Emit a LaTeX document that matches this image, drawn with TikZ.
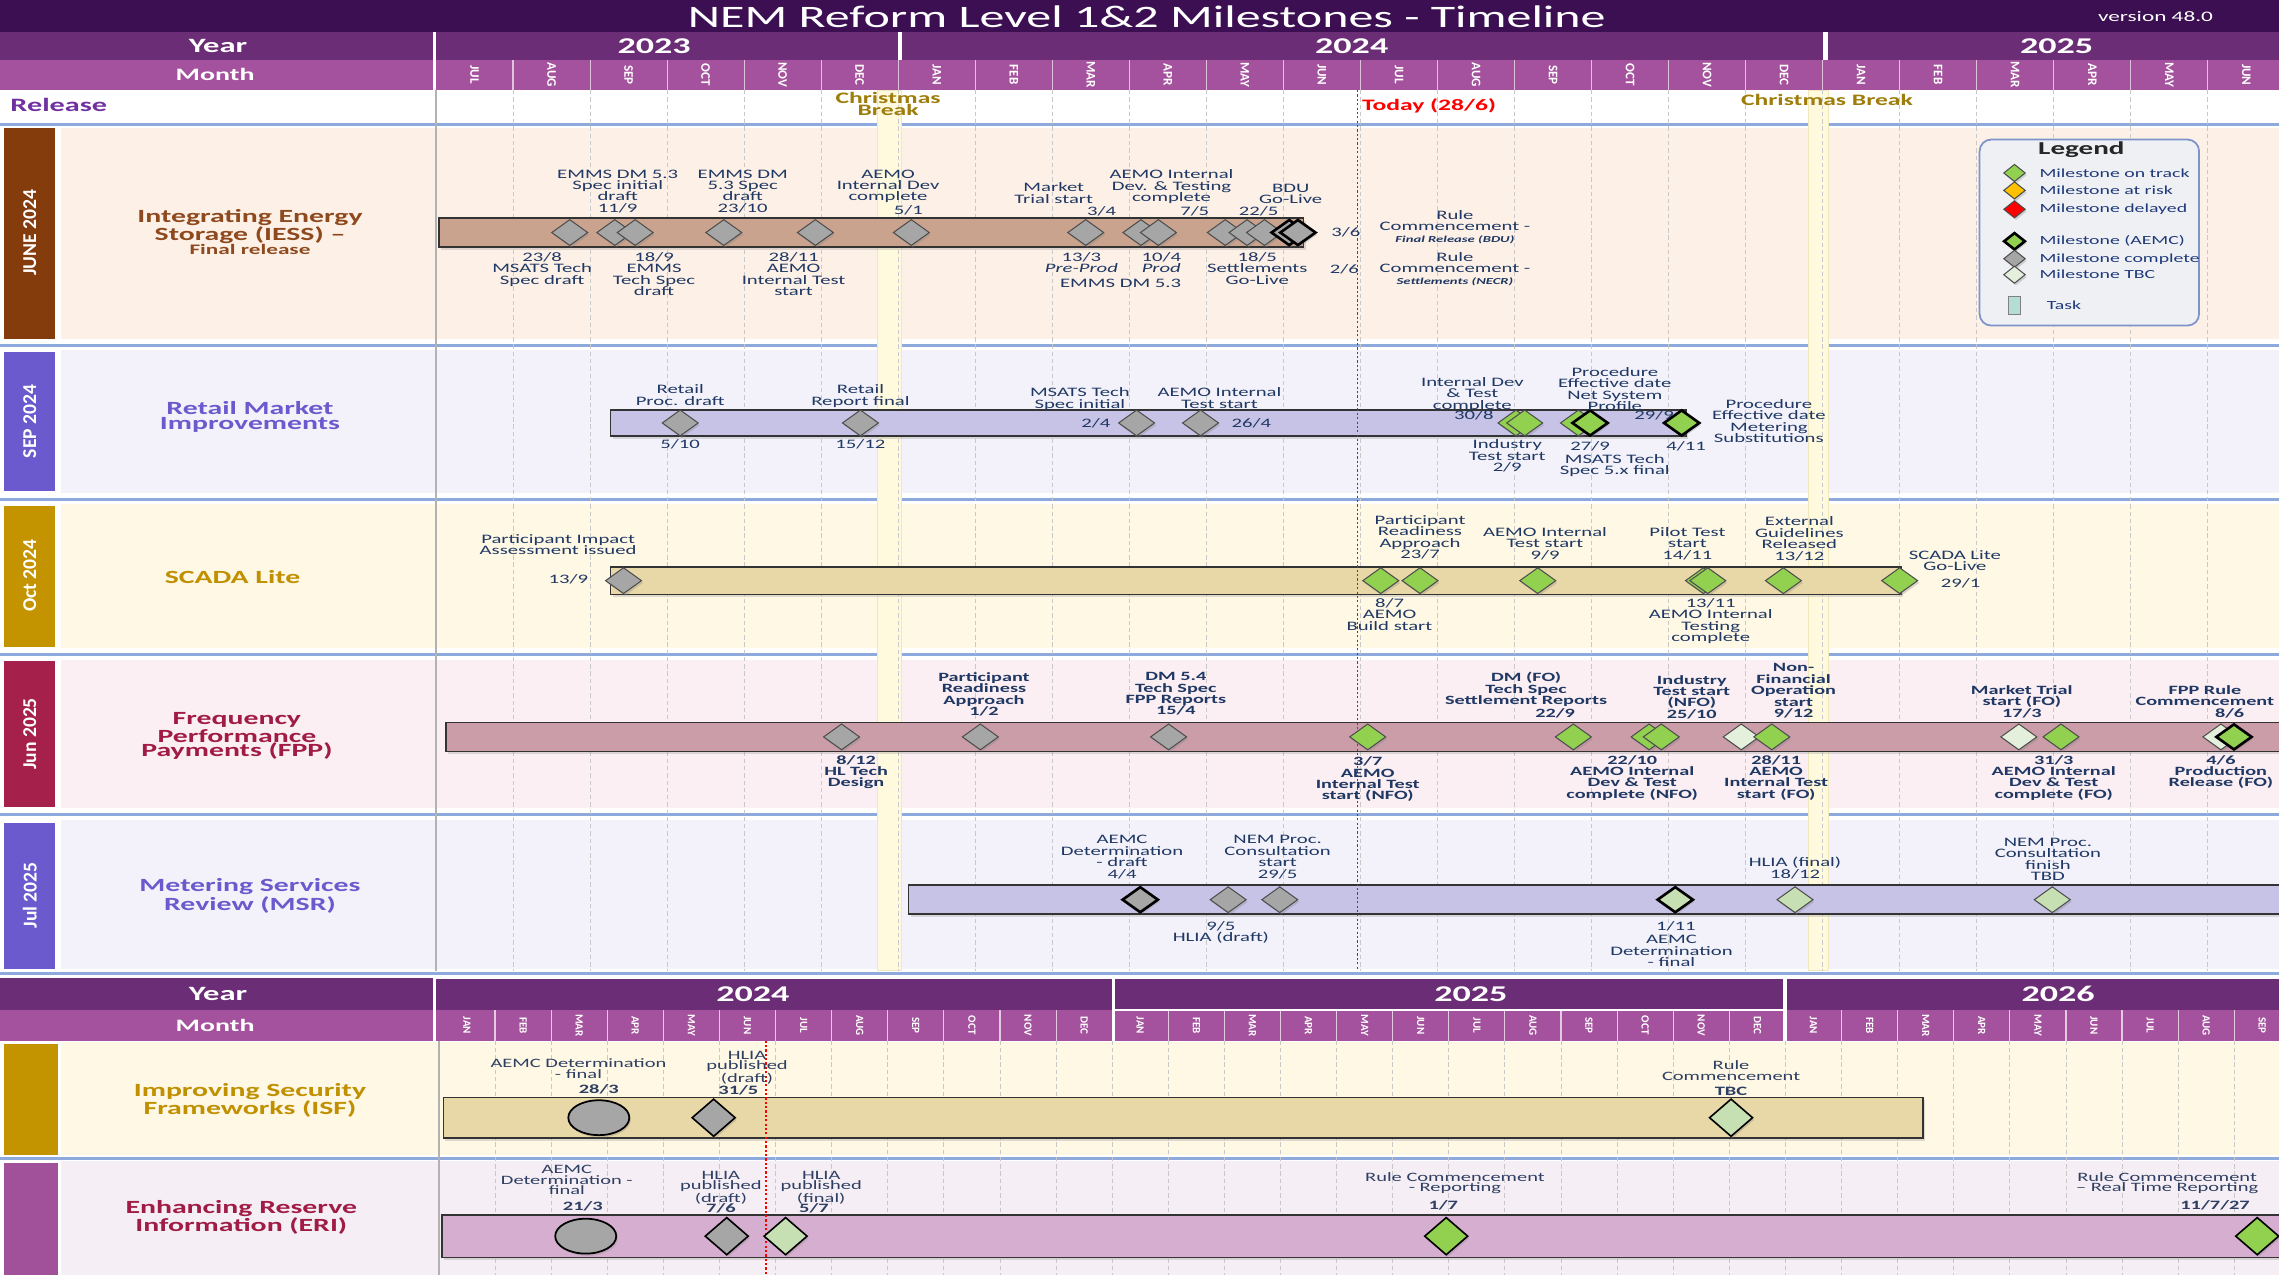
\documentclass[tikz,border=0pt]{standalone}
\usepackage{fontspec}
\setmainfont{Carlito}[FakeStretch=1.6]
\newfontfamily\rotfont{Carlito}
\usetikzlibrary{shapes.geometric,shadows}

\definecolor{titlebg}{HTML}{3B0F52}
\definecolor{yearbg}{HTML}{6B2D76}
\definecolor{monthbg}{HTML}{A4529D}
\definecolor{relc}{HTML}{7030A0}
\definecolor{sepblue}{HTML}{8EA9DB}
\definecolor{gridc}{HTML}{C8C8C8}
\definecolor{xmas}{HTML}{FFF9DE}
\definecolor{xmasedge}{HTML}{F0E8BC}
\definecolor{xmastext}{HTML}{9E7D0A}
\definecolor{lbl}{HTML}{1F3864}
\definecolor{lbln}{HTML}{2E3F63}
\definecolor{iesstab}{HTML}{843C0C}
\definecolor{iessbg}{HTML}{FDF0E6}
\definecolor{iesstext}{HTML}{8E4A1E}
\definecolor{iessbar}{HTML}{C9A38E}
\definecolor{bluetab}{HTML}{6A5ACD}
\definecolor{bluebg}{HTML}{F3F2FA}
\definecolor{bluebar}{HTML}{C6C3E6}
\definecolor{goldtab}{HTML}{C39300}
\definecolor{goldbg}{HTML}{FEF8E4}
\definecolor{goldtext}{HTML}{C09000}
\definecolor{goldbar}{HTML}{E8D7A7}
\definecolor{fpptab}{HTML}{A5204A}
\definecolor{fppbg}{HTML}{FCEFF3}
\definecolor{fpptext}{HTML}{A01C45}
\definecolor{fppbar}{HTML}{CA9DA8}
\definecolor{eritab}{HTML}{A0519A}
\definecolor{eribg}{HTML}{F6EEF5}
\definecolor{eribar}{HTML}{D6AED0}
\definecolor{mgreen}{HTML}{92D050}
\definecolor{mgrey}{HTML}{A6A6A6}
\definecolor{mtbc}{HTML}{E4EFDC}
\definecolor{mlgreen}{HTML}{C6E0B4}
\definecolor{morange}{HTML}{FFC000}
\definecolor{mred}{HTML}{FF0000}
\definecolor{legbg}{HTML}{EEF0F4}
\definecolor{legline}{HTML}{7F93CB}
\definecolor{legtext}{HTML}{1F3A7A}
\definecolor{taskc}{HTML}{B4DED4}
\definecolor{todayc}{HTML}{FF0000}

\tikzset{
  lbl/.style={font=\fontsize{8.9}{7.9}\selectfont, text=lbl, align=center, inner sep=0pt, anchor=north},
  lblb/.style={lbl, font=\fontsize{8.7}{7.8}\selectfont\bfseries},
  lbln/.style={lbl, text=lbln, font=\fontsize{8.8}{7.3}\selectfont},
  lblnb/.style={lbl, text=lbln, font=\fontsize{8.8}{7.3}\selectfont\bfseries},
  hdr/.style={font=\fontsize{14}{14}\selectfont\bfseries, text=white, inner sep=0pt},
  hdrm/.style={font=\fontsize{12}{12}\selectfont\bfseries, text=white, inner sep=0pt},
  yrlab/.style={font=\fontsize{15.5}{15.5}\selectfont\bfseries, text=white, inner sep=0pt},
  mlab/.style={font=\rotfont\fontsize{9}{9}\selectfont\bfseries, text=white, rotate=-90, inner sep=0pt},
  mlabs/.style={font=\rotfont\fontsize{7.6}{7.6}\selectfont\bfseries, text=white, rotate=-90, inner sep=0pt},
  tablab/.style={font=\rotfont\fontsize{13.5}{13.5}\selectfont\bfseries, text=white, rotate=90, inner sep=0pt},
  rowlab/.style={font=\fontsize{12.8}{10}\selectfont\bfseries, align=center, inner sep=0pt},
  gline/.style={gridc, dash pattern=on 3pt off 2pt, line width=0.6pt},
  rowsep/.style={sepblue, line width=2pt},
  tbar/.style={draw=black!80, line width=1pt, drop shadow={shadow xshift=1.5pt, shadow yshift=-2pt, opacity=0.25}},
  ms/.style={diamond, draw=black!70, line width=0.7pt, minimum width=25pt, minimum height=18pt, inner sep=0pt, drop shadow={shadow xshift=1pt, shadow yshift=-1.5pt, opacity=0.3}},
  tall/.style={minimum width=30pt, minimum height=26pt, draw=black, line width=1.1pt},
  done/.style={fill=mgrey},
  okm/.style={fill=mgreen},
  tbc/.style={fill=mtbc},
  lgm/.style={fill=mlgreen},
  aemc/.style={draw=black, line width=1.8pt},
  circm/.style={ellipse, draw=black, line width=1.2pt, fill=mgrey, minimum width=42pt, minimum height=24pt, inner sep=0pt, drop shadow={shadow xshift=1pt, shadow yshift=-1.5pt, opacity=0.3}},
  legt/.style={font=\fontsize{8.5}{8.5}\selectfont, text=legtext, anchor=west, inner sep=0pt},
  legd/.style={minimum width=15pt, minimum height=12pt},
  today/.style={todayc, line width=1pt, dash pattern=on 1.5pt off 1.5pt},
}

\newcommand\milab[5][lbl]{\node[#1] (#2) at (#3,{#4-3.5}) {#5};}
\newcommand\mdia[4]{\node[ms,#1] (#2) at (#3,#4) {};}

\begin{document}
\begin{tikzpicture}[x=1pt,y=-1pt]
\useasboundingbox (0,0) rectangle (1568,877.2);
\fill[white] (0,0) rectangle (1568,877.2);

% ---------- upper header ----------
\fill[titlebg] (0,0) rectangle (1568,22);
\node[font=\fontsize{21.5}{22}\selectfont, text=white, inner sep=0pt] (title) at (789,11.5) {NEM Reform Level 1\&2 Milestones - Timeline};
\node[font=\fontsize{10}{10}\selectfont, text=white, inner sep=0pt] (ver) at (1483,11.5) {version 48.0};
\fill[yearbg] (0,22) rectangle (1568,41);
\fill[monthbg] (0,41) rectangle (1568,62);
\foreach \k in {1,...,23} \draw[white!65!monthbg, line width=0.8pt] ({300+53*\k},41) -- ({300+53*\k},62);
\draw[white, line width=2pt] (299,22) -- (299,62);
\draw[white, line width=3pt] (619,22) -- (619,41);
\draw[white, line width=3pt] (1256,22) -- (1256,41);
\node[hdr] (yearU) at (150,31.5) {Year};
\node[hdrm] (monthU) at (148,51.5) {Month};
\node[yrlab] (y2023) at (450,31.5) {2023};
\node[yrlab] (y2024) at (930,31.5) {2024};
\node[yrlab] (y2025) at (1415,31.5) {2025};
\foreach \mn [count=\i from 0] in {JUL,AUG,SEP,OCT,NOV,DEC,JAN,FEB,MAR,APR,MAY,JUN,JUL,AUG,SEP,OCT,NOV,DEC,JAN,FEB,MAR,APR,MAY,JUN}
  \node[mlab] (um\i) at ({326.5+53*\i},51.5) {\mn};
\node[font=\fontsize{13}{13}\selectfont\bfseries, text=relc, anchor=west, inner sep=0pt] (rel) at (7,72.5) {Release};

% ---------- upper rows ----------
\fill[iesstab] (3,88) rectangle (38,233);
\fill[iessbg] (42,88) rectangle (1568,233);
\fill[bluetab] (3,242) rectangle (38,338);
\fill[bluebg] (42,241) rectangle (1568,339);
\fill[goldtab] (3,348) rectangle (38,445);
\fill[goldbg] (42,347) rectangle (1568,446);
\fill[fpptab] (3,455) rectangle (38,555);
\fill[fppbg] (42,454) rectangle (1568,556);
\fill[bluetab] (3,566) rectangle (38,667);
\fill[bluebg] (42,564) rectangle (1568,667);

\foreach \yy in {85.5,237.5,343.5,450.5,560.5,669.5} \draw[rowsep] (0,\yy) -- (1568,\yy);

% christmas strips
\filldraw[fill=xmas, draw=xmasedge, line width=0.8pt] (604,62) rectangle (620,668);
\filldraw[fill=xmas, draw=xmasedge, line width=0.8pt] (1244,62) rectangle (1258,668);

% grid
\foreach \k in {1,...,23} \draw[gline] ({300+53*\k},62) -- ({300+53*\k},668);
\draw[black!30, line width=0.8pt] (300,62) -- (300,668);

\node[font=\fontsize{11}{8}\selectfont\bfseries, text=xmastext, align=center, inner sep=0pt] (xm1) at (611,71.5) {Christmas\\Break};
\node[font=\fontsize{11}{8}\selectfont\bfseries, text=xmastext, inner sep=0pt] (xm2) at (1257,68.5) {Christmas Break};
\node[font=\fontsize{11}{11}\selectfont\bfseries, text=todayc, anchor=west, inner sep=0pt] (todayt) at (937,72.5) {Today (28/6)};

% tab labels
\node[tablab] (tab1) at (20.5,160) {JUNE 2024};
\node[tablab] (tab2) at (20.5,290) {SEP 2024};
\node[tablab] (tab3) at (20.5,396) {Oct 2024};
\node[tablab] (tab4) at (20.5,505) {Jun 2025};
\node[tablab] (tab5) at (20.5,616) {Jul 2025};

% row labels
\node[rowlab, text=iesstext] (rl1) at (172,156) {Integrating Energy\\Storage (IESS) –};
\node[font=\fontsize{10}{10}\selectfont\bfseries, text=iesstext, inner sep=0pt] (rl1b) at (172,171.5) {Final release};
\node[rowlab, text=bluetab] (rl2) at (172,287) {Retail Market\\Improvements};
\node[rowlab, text=goldtext] (rl3) at (160,397) {SCADA Lite};
\node[rowlab, text=fpptext] (rl4) at (163,506.5) {Frequency\\Performance\\Payments (FPP)};
\node[rowlab, text=bluetab] (rl5) at (172,616.5) {Metering Services\\Review (MSR)};

% bars
\filldraw[tbar, fill=iessbar] (302,150) rectangle (897,170);
\filldraw[tbar, fill=bluebar] (420,282) rectangle (1160,300);
\filldraw[tbar, fill=goldbar] (420,390) rectangle (1308,409);
\filldraw[tbar, fill=fppbar] (307,497) rectangle (1575,517);
\filldraw[tbar, fill=bluebar] (625,609) rectangle (1575,629);

% today line upper
\draw[today] (934,62) -- (934,668);

% IESS milestones
\mdia{done}{a1}{392}{160}
\mdia{done}{a2}{423}{160}
\mdia{done}{a3}{437}{160}
\mdia{done}{a4}{498}{160}
\mdia{done}{a5}{561}{160}
\mdia{done}{a6}{627}{160}
\mdia{done}{a7}{747}{160}
\mdia{done}{a8}{785}{160}
\mdia{done}{a9}{797}{160}
\mdia{done}{a10}{843}{160}
\mdia{done}{a11}{858}{160}
\mdia{done}{a12}{870}{160}
\mdia{done,aemc}{a13}{887}{160}
\mdia{done,aemc}{a14}{893}{160}

% Retail milestones
\mdia{done}{b1}{468}{291}
\mdia{done}{b2}{592}{291}
\mdia{done}{b3}{782}{291}
\mdia{done}{b4}{826}{291}
\mdia{okm}{b5}{1043}{291}
\mdia{okm}{b6}{1049}{291}
\mdia{okm}{b7}{1086}{291}
\mdia{okm,aemc}{b8}{1094}{291}
\mdia{okm,aemc}{b9}{1157}{291}

% SCADA milestones
\mdia{done}{c1}{429}{399.5}
\mdia{okm}{c2}{950}{399.5}
\mdia{okm}{c3}{977}{399.5}
\mdia{okm}{c4}{1058}{399.5}
\mdia{okm}{c5}{1172}{399.5}
\mdia{okm}{c6}{1175}{399.5}
\mdia{okm}{c7}{1227}{399.5}
\mdia{okm}{c8}{1307}{399.5}

% FPP milestones
\mdia{done}{d1}{579}{507}
\mdia{done}{d2}{674.5}{507}
\mdia{done}{d3}{804}{507}
\mdia{okm}{d4}{941}{507}
\mdia{okm}{d5}{1082.5}{507}
\mdia{okm}{d6}{1134.6}{507}
\mdia{okm}{d7}{1143}{507}
\mdia{tbc}{d8}{1198}{507}
\mdia{okm}{d9}{1219}{507}
\mdia{tbc}{d10}{1389}{507}
\mdia{okm}{d11}{1418}{507}
\mdia{tbc}{d12}{1528}{507}
\mdia{okm,aemc}{d13}{1537}{507}

% MSR milestones
\mdia{done,aemc}{e1}{784.5}{619}
\mdia{done}{e2}{845}{619}
\mdia{done}{e3}{880.5}{619}
\mdia{lgm,aemc}{e4}{1152.6}{619}
\mdia{lgm}{e5}{1235}{619}
\mdia{lgm}{e6}{1412}{619}

% IESS labels
\milab{l1}{425}{120}{EMMS DM 5.3\\Spec initial\\draft\\11/9}
\milab{l2}{511}{120}{EMMS DM\\5.3 Spec\\draft\\23/10}
\milab{l3}{611}{120}{AEMO\\Internal Dev\\complete}
\milab{l3d}{625}{144.5}{5/1}
\milab{l4}{373}{177}{23/8\\MSATS Tech\\Spec draft}
\milab{l5}{450}{177}{18/9\\EMMS\\Tech Spec\\draft}
\milab{l6}{546}{177}{28/11\\AEMO\\Internal Test\\start}
\milab{l7}{725}{129}{Market\\Trial start}
\milab{l7d}{758}{145.5}{3/4}
\milab{l8}{806}{120}{AEMO Internal\\Dev. \& Testing\\complete}
\milab{l8d}{822}{145.5}{7/5}
\milab{l9}{888}{130}{BDU\\Go-Live}
\milab{l9d}{866}{145.5}{22/5}
\milab{l10}{926}{160}{3/6}
\milab{l11}{1001}{148}{Rule\\Commencement -\\{\fontsize{6.3}{7}\selectfont\bfseries\itshape Final Release (BDU)}}
\milab{l12}{744}{177}{13/3\\\textit{Pre-Prod}}
\milab{l13}{799}{177}{10/4\\\textit{Prod}}
\milab{l14}{771}{195}{EMMS DM 5.3}
\milab{l15}{865}{177}{18/5\\Settlements\\Go-Live}
\milab{l16}{925}{185}{2/6}
\milab{l17}{1001}{177}{Rule\\Commencement -\\{\fontsize{6.3}{7}\selectfont\bfseries\itshape Settlements (NECR)}}

% Retail labels
\milab{r1}{468}{268}{Retail\\Proc. draft}
\milab{r1d}{468}{306}{5/10}
\milab{r2}{592}{268}{Retail\\Report final}
\milab{r2d}{592}{306}{15/12}
\milab{r3}{743}{270}{MSATS Tech\\Spec initial}
\milab{r3d}{754}{291}{2/4}
\milab{r4}{839}{270}{AEMO Internal\\Test start}
\milab{r4d}{861}{291}{26/4}
\milab{r5}{1013}{263}{Internal Dev\\\& Test\\complete}
\milab{r5d}{1014}{286}{30/8}
\milab{r6}{1111}{256}{Procedure\\Effective date\\Net System\\Profile}
\milab{r6d}{1138}{286}{29/9}
\milab{r7}{1217}{278}{Procedure\\Effective date\\Metering\\Substitutions}
\milab{r8}{1037}{306}{Industry\\Test start\\2/9}
\milab{r9d}{1094}{307}{27/9}
\milab{r9}{1111}{316}{MSATS Tech\\Spec 5.x final}
\milab{r10}{1160}{307}{4/11}

% SCADA labels
\milab{s1}{384}{371}{Participant Impact\\Assessment issued}
\milab{s1d}{391}{398.5}{13/9}
\milab{s2}{977}{358}{Participant\\Readiness\\Approach\\23/7}
\milab{s3}{1063}{366}{AEMO Internal\\Test start\\9/9}
\milab{s4}{1161}{366}{Pilot Test\\start\\14/11}
\milab{s5}{1238}{359}{External\\Guidelines\\Released\\13/12}
\milab{s6}{1345}{382}{SCADA Lite\\Go-Live}
\milab{s6d}{1349}{401}{29/1}
\milab{s7}{956}{415}{8/7\\AEMO\\Build start}
\milab{s8}{1177}{415}{13/11\\AEMO Internal\\Testing\\complete}

% FPP labels
\milab[lblb]{f1}{589}{523}{8/12\\HL Tech\\Design}
\milab[lblb]{f2}{677}{466}{Participant\\Readiness\\Approach\\1/2}
\milab[lblb]{f3}{809}{466}{DM 5.4\\Tech Spec\\FPP Reports\\15/4}
\milab[lblb]{f4}{941}{524}{3/7\\AEMO\\Internal Test\\start (NFO)}
\milab[lblb]{f5}{1050}{466}{DM (FO)\\Tech Spec\\Settlement Reports}
\milab[lblb]{f5d}{1070}{491}{22/9}
\milab[lblb]{f6}{1123}{523}{22/10\\AEMO Internal\\Dev \& Test\\complete (NFO)}
\milab[lblb]{f7}{1164}{468}{Industry\\Test start\\(NFO)\\25/10}
\milab[lblb]{f8}{1234}{460}{Non-\\Financial\\Operation\\start\\9/12}
\milab[lblb]{f9}{1222}{523}{28/11\\AEMO\\Internal Test\\start (FO)}
\milab[lblb]{f10}{1391}{475}{Market Trial\\start (FO)\\17/3}
\milab[lblb]{f11}{1413}{523}{31/3\\AEMO Internal\\Dev \& Test\\complete (FO)}
\milab[lblb]{f12}{1517}{475}{FPP Rule\\Commencement}
\milab[lblb]{f12d}{1534}{491}{8/6}
\milab[lblb]{f13}{1528}{523}{4/6\\Production\\Release (FO)}

% MSR labels
\milab{m1}{772}{578}{AEMC\\Determination\\- draft\\4/4}
\milab{m2}{879}{578}{NEM Proc.\\Consultation\\start\\29/5}
\milab{m3}{840}{637}{9/5\\HLIA (draft)}
\milab{m4}{1235}{593}{HLIA (final)\\18/12}
\milab{m5}{1409}{580}{NEM Proc.\\Consultation\\finish\\TBD}
\milab{m6d}{1153}{637}{1/11}
\milab{m6}{1150}{647}{AEMC\\Determination\\- final}

% legend
\draw[legline, fill=legbg, rounded corners=8pt, line width=1.2pt] (1362,96) rectangle (1513,224);
\node[font=\fontsize{12.5}{12.5}\selectfont\bfseries, text=black!85, inner sep=0pt] (legT) at (1432,103) {Legend};
\node[ms, legd, okm] (lg1) at (1386,119) {};
\node[legt] (lgt1) at (1403,119) {Milestone on track};
\node[ms, legd, fill=morange] (lg2) at (1386,131) {};
\node[legt] (lgt2) at (1403,131) {Milestone at risk};
\node[ms, legd, fill=mred] (lg3) at (1386,144) {};
\node[legt] (lgt3) at (1403,144) {Milestone delayed};
\node[ms, legd, okm, aemc] (lg4) at (1386,166) {};
\node[legt] (lgt4) at (1403,166) {Milestone (AEMC)};
\node[ms, legd, done] (lg5) at (1386,178) {};
\node[legt] (lgt5) at (1403,178) {Milestone complete};
\node[ms, legd, tbc] (lg6) at (1386,189) {};
\node[legt] (lgt6) at (1403,189) {Milestone TBC};
\node[draw=black!50, fill=taskc, minimum width=8pt, minimum height=12pt, inner sep=0pt] (lg7) at (1386,210) {};
\node[legt] (lgt7) at (1408,210) {Task};

% ---------- lower header ----------
\fill[yearbg] (0,673) rectangle (1568,695);
\fill[monthbg] (0,695) rectangle (1568,716);
\foreach \k in {1,...,32} \draw[white!70!monthbg, line width=0.8pt] ({302+38.6*\k},695) -- ({302+38.6*\k},716);
\draw[white, line width=1pt] (298,673) -- (1568,673);
\draw[white, line width=2pt] (299,673) -- (299,716);
\draw[white, line width=2.5pt] (766,673) -- (766,716);
\draw[white, line width=2.5pt] (1228,673) -- (1228,716);
\draw[white, line width=1.5pt] (766,695) -- (1228,695);
\node[hdr] (yearL) at (150,684) {Year};
\node[hdrm] (monthL) at (148,705.5) {Month};
\node[yrlab] (z2024) at (518,684) {2024};
\node[yrlab] (z2025) at (1012,684) {2025};
\node[yrlab] (z2026) at (1416,684) {2026};
\foreach \mn [count=\i from 0] in {JAN,FEB,MAR,APR,MAY,JUN,JUL,AUG,SEP,OCT,NOV,DEC,JAN,FEB,MAR,APR,MAY,JUN,JUL,AUG,SEP,OCT,NOV,DEC,JAN,FEB,MAR,APR,MAY,JUN,JUL,AUG,SEP}
  \node[mlabs] (lm\i) at ({302+38.6*(\i+0.5)},705.5) {\mn};

% ---------- lower rows ----------
\fill[goldtab] (3,718) rectangle (40,795);
\fill[goldbg] (42,717) rectangle (1568,795);
\fill[eritab] (3,800) rectangle (40,877.2);
\fill[eribg] (42,799) rectangle (1568,877.2);
\draw[rowsep] (0,797) -- (1568,797);
\foreach \k in {1,...,32} \draw[gline] ({302+38.6*\k},716) -- ({302+38.6*\k},877.2);
\draw[black!30, line width=0.8pt] (302,716) -- (302,877.2);

\node[rowlab, text=goldtext] (rl6) at (172,757) {Improving Security\\Frameworks (ISF)};
\node[rowlab, text=fpptext] (rl7) at (166,837.5) {Enhancing Reserve\\Information (ERI)};

\filldraw[tbar, fill=goldbar] (305,755) rectangle (1323,783);
\filldraw[tbar, fill=eribar] (304,836) rectangle (1575,865);
\draw[today] (527,716) -- (527,877.2);

\node[circm] (g1) at (412,769) {};
\mdia{done,tall}{g2}{491}{769}
\mdia{lgm,tall}{g3}{1191}{769}
\node[circm] (h1) at (403,850.5) {};
\mdia{done,tall}{h2}{500}{850.5}
\mdia{lgm,tall}{h3}{540.5}{850.5}
\mdia{okm,tall}{h4}{995}{850.5}
\mdia{okm,tall}{h5}{1553}{850.5}

\milab[lbln]{i1}{398}{732}{AEMC Determination\\- final}
\milab[lblnb]{i1d}{412}{749.5}{28/3}
\milab[lbln]{i2}{514}{726.5}{HLIA\\published\\(draft)}
\milab[lblnb]{i2d}{508}{750}{31/5}
\milab[lbln]{i3}{1191}{733}{Rule\\Commencement}
\milab[lblnb]{i3d}{1191}{751}{TBC}

\milab[lbln]{k1}{390}{805}{AEMC\\Determination -\\final}
\milab[lblnb]{k1d}{401}{830}{21/3}
\milab[lbln]{k2}{496}{809}{HLIA\\published\\(draft)}
\milab[lblnb]{k2d}{496}{831.5}{7/6}
\milab[lbln]{k3}{565}{809}{HLIA\\published\\(final)}
\milab[lblnb]{k3d}{560}{831.5}{5/7}
\milab[lbln]{k4}{1001}{810}{Rule Commencement\\- Reporting}
\milab[lblnb]{k4d}{993}{829}{1/7}
\milab[lbln]{k5}{1491}{810}{Rule Commencement\\– Real Time Reporting}
\milab[lblnb]{k5d}{1524}{829}{11/7/27}
\end{tikzpicture}
\end{document}
